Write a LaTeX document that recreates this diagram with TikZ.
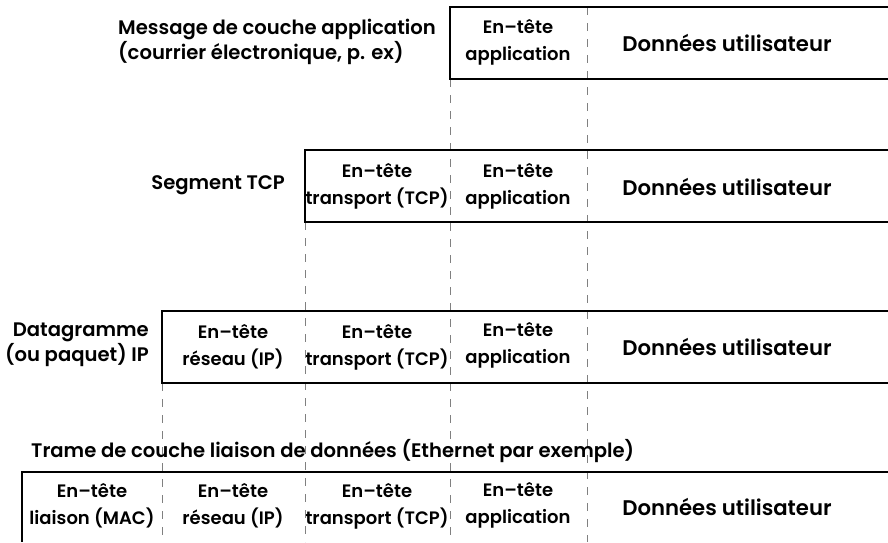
\documentclass[tikz,border=0pt]{standalone}
\usepackage{fontspec}
\setmainfont{Poppins}[BoldFont = * SemiBold]

\tikzset{
	hdr/.style = {align = center, font = \fontsize{18}{27}\bfseries, inner sep = 0pt},
	data/.style = {font = \fontsize{21.2}{26}\bfseries, inner sep = 0pt},
	lbl/.style = {font = \fontsize{19.6}{25}\bfseries, inner sep = 0pt},
	frame/.style = {line width = 1.4pt},
	guide/.style = {gray, line width = 0.9pt, dash pattern = on 8pt off 8pt},
}

\begin{document}
\begin{tikzpicture} [x = 1pt, y = -1pt]
	\useasboundingbox (0, 0) rectangle (888, 542) ;

	% guides between the layers
	\foreach \x / \y in {587/7, 450/79, 305/222, 162/383}
		\draw [guide] (\x, \y) -- (\x, 542) ;

	% application
	\draw [frame] (888, 7) -| (450, 79) -- (888, 79) ;
	\node [lbl, align = left, anchor = east] (msgApp) at (436, 42) {Message de couche application\\(courrier électronique, p. ex)} ;
	\node [hdr] (appA) at (518, 42) {En--tête\\application} ;
	\node [data] (dataA) at (727, 43) {Données utilisateur} ;

	% transport
	\draw [frame] (888, 150) -| (305, 222) -- (888, 222) ;
	\node [lbl, anchor = east] (msgTcp) at (285, 185) {Segment TCP} ;
	\node [hdr] (tcpT) at (377, 186) {En--tête\\transport (TCP)} ;
	\node [hdr] (appT) at (518, 186) {En--tête\\application} ;
	\node [data] (dataT) at (727, 187) {Données utilisateur} ;

	% network
	\draw [frame] (888, 311) -| (162, 383) -- (888, 383) ;
	\node [lbl, align = right, anchor = east] (msgIp) at (149, 345) {Datagramme\\(ou paquet) IP} ;
	\node [hdr] (ipN) at (233, 347) {En--tête\\réseau (IP)} ;
	\node [hdr] (tcpN) at (377, 347) {En--tête\\transport (TCP)} ;
	\node [hdr] (appN) at (518, 345) {En--tête\\application} ;
	\node [data] (dataN) at (727, 347) {Données utilisateur} ;

	% link
	\node [lbl, anchor = west] (msgMac) at (31, 451) {Trame de couche liaison de données (Ethernet par exemple)} ;
	\draw [frame] (888, 472) -| (22, 542) ;
	\node [hdr] (macL) at (92, 506) {En--tête\\liaison (MAC)} ;
	\node [hdr] (ipL) at (233, 506) {En--tête\\réseau (IP)} ;
	\node [hdr] (tcpL) at (377, 506) {En--tête\\transport (TCP)} ;
	\node [hdr] (appL) at (518, 505) {En--tête\\application} ;
	\node [data] (dataL) at (727, 507) {Données utilisateur} ;

\end{tikzpicture}
\end{document}
